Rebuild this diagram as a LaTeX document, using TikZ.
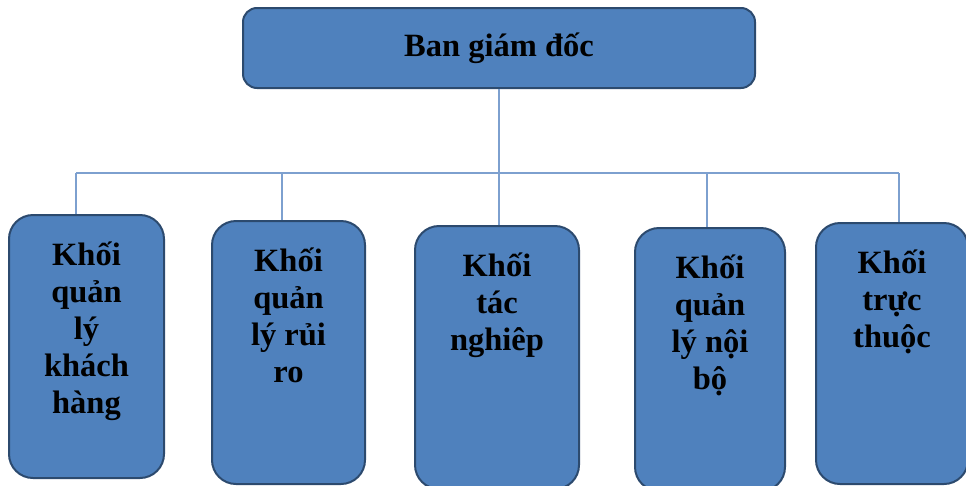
\documentclass[tikz,border=0pt]{standalone}
\usepackage{fontspec}
\setmainfont{Liberation Serif}
\definecolor{boxfill}{HTML}{4F81BD}
\definecolor{boxline}{HTML}{2C4A6E}
\definecolor{connline}{HTML}{7DA0CF}
\begin{document}
\begin{tikzpicture}[x=1pt, y=-1pt,
        unit/.style={
        rectangle, rounded corners=24pt,
        draw=boxline, line width=2pt,
        fill=boxfill, inner sep=0pt},
        unittext/.style={
        anchor=north, align=center, inner sep=0pt,
        font=\bfseries\fontsize{32.5}{37}\selectfont},
        conn/.style={draw=connline, line width=1.2pt},
        ]

        \useasboundingbox (0,0) rectangle (966,485);
        \clip (0,0) rectangle (966,485);

        \node (top) [unit, minimum width=512pt, minimum height=80pt,
            rounded corners=14pt,
            font=\bfseries\fontsize{32.5}{37}\selectfont] at (499,48) {Ban giám đốc};

        \node (b1) [unit, minimum width=155pt, minimum height=263pt] at (86.5,346.5){};
        \node (b2) [unit, minimum width=153pt, minimum height=263pt] at (288.5,352.5){};
        \node (b3) [unit, minimum width=164pt, minimum height=263pt] at (497,357.5){};
        \node (b4) [unit, minimum width=150pt, minimum height=263pt] at (710,359.5){};
        \node (b5) [unit, minimum width=152pt, minimum height=261pt] at (892,353.5){};

        \node (t1) [unittext] at ([yshift=-28pt]b1.north) {Khối\\quản\\lý\\khách\\hàng};
        \node (t2) [unittext] at ([yshift=-28pt]b2.north) {Khối\\quản\\lý rủi\\ro};
        \node (t3) [unittext] at ([yshift=-28pt]b3.north) {Khối\\tác\\nghiêp};
        \node (t4) [unittext] at ([yshift=-28pt]b4.north) {Khối\\quản\\lý nội\\bộ};
        \node (t5) [unittext] at ([yshift=-28pt]b5.north) {Khối\\trực\\thuộc};

        \coordinate (busL) at (76,173);
        \coordinate (busR) at (899,173);

        \draw[conn] (top.south) -- (top.south |- busL);
        \draw[conn] (busL) -- (busR);
        \draw[conn] (busL) -- (busL |- b1.north);
        \draw[conn] ([xshift=-6.5pt]b2.north |- busL) -- ([xshift=-6.5pt]b2.north);
        \draw[conn] ([xshift=2pt]b3.north |- busL) -- ([xshift=2pt]b3.north);
        \draw[conn] ([xshift=-3pt]b4.north |- busL) -- ([xshift=-3pt]b4.north);
        \draw[conn] (busR) -- (busR |- b5.north);
    \end{tikzpicture}
\end{document}
